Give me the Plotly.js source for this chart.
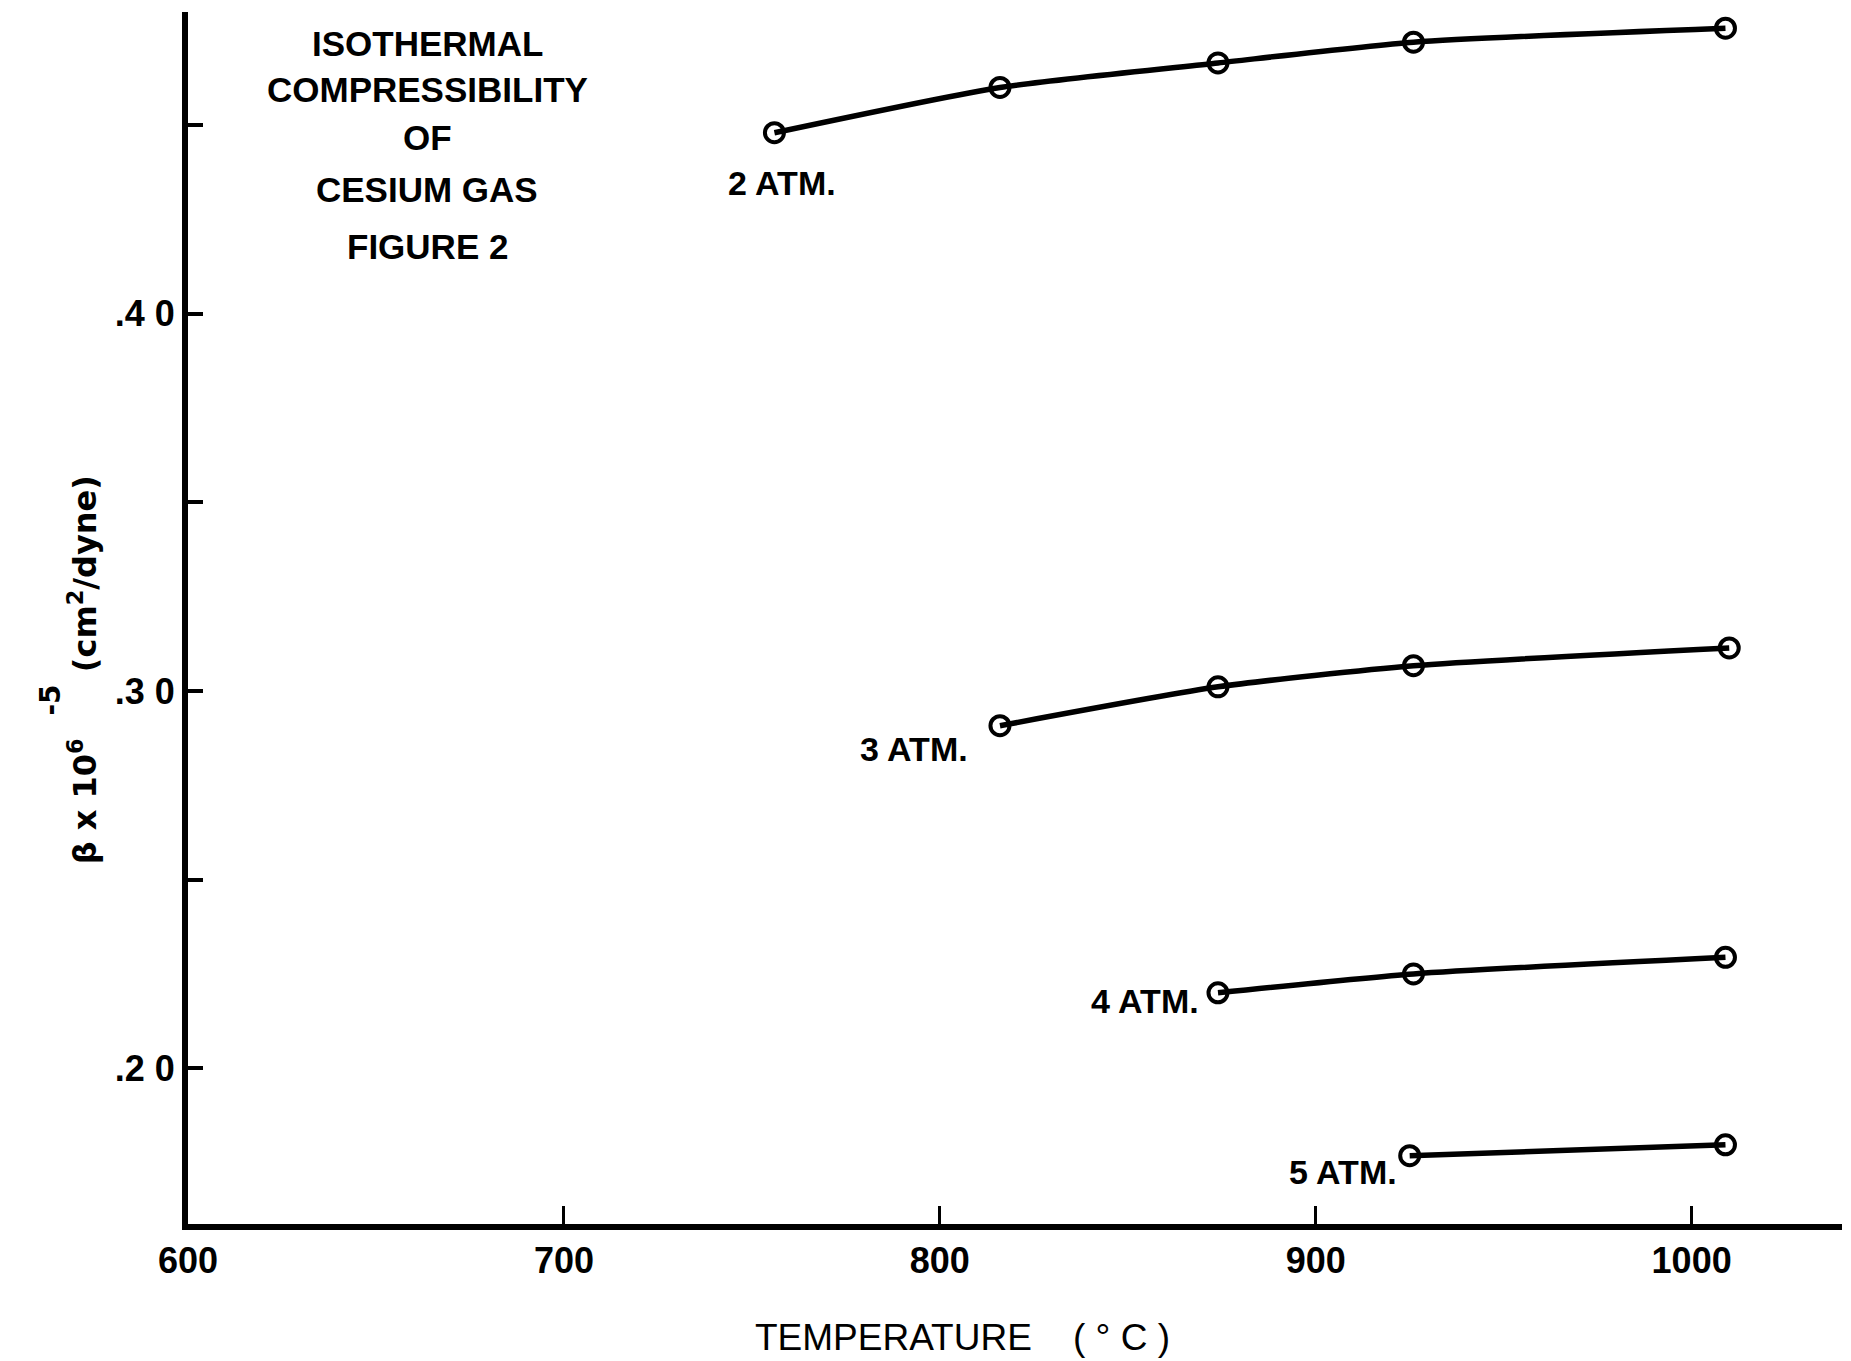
<!DOCTYPE html>
<html>
<head>
<meta charset="utf-8">
<script src="https://cdn.plot.ly/plotly-3.0.1.min.js"></script>
<style>html,body{margin:0;padding:0;background:#fff;}#chart{width:1851px;height:1361px;}</style>
</head>
<body>
<div id="chart"></div>
<script>
// Temperatures (°C) and compressibility beta x 10^6 (cm^2/dyne)
const temp2 = [756, 816, 874, 926, 1009];
const beta2 = [0.448, 0.460, 0.4665, 0.472, 0.4757];
const temp3 = [816, 874, 926, 1010];
const beta3 = [0.2908, 0.3011, 0.3067, 0.3114];
const temp4 = [874, 926, 1009];
const beta4 = [0.2200, 0.2250, 0.2294];
const temp5 = [925, 1009];
const beta5 = [0.1768, 0.1797];
const seriesNames = ['2 ATM.', '3 ATM.', '4 ATM.', '5 ATM.'];
const xTickVals = [600, 700, 800, 900, 1000];
const xTickText = ['600', '700', '800', '900', '1000'];
const yTickVals = [0.20, 0.30, 0.40];
const yTickText = ['.2 0', '.3 0', '.4 0'];
const titleLines = ['ISOTHERMAL', 'COMPRESSIBILITY', 'OF', 'CESIUM GAS', 'FIGURE 2'];

const FONT = '"Liberation Sans Narrow", "Liberation Sans", Arial, sans-serif';
const DV = '"DejaVu Sans", sans-serif';
const mk = (x, y, name) => ({
  x: x, y: y, name: name, type: 'scatter', mode: 'lines+markers',
  line: {color: '#000', width: 5.5, shape: 'spline', smoothing: 0.6},
  marker: {symbol: 'circle-open', size: 19, color: '#000', line: {width: 4, color: '#000'}},
  showlegend: false, hoverinfo: 'x+y'
});
const data = [mk(temp2, beta2, seriesNames[0]), mk(temp3, beta3, seriesNames[1]),
              mk(temp4, beta4, seriesNames[2]), mk(temp5, beta5, seriesNames[3])];

const labelPos = [[758, 0.4347], [793, 0.2845], [854.6, 0.2178], [907.3, 0.1725]];
const annotations = [];
seriesNames.forEach((n, i) => annotations.push({
  x: labelPos[i][0], y: labelPos[i][1], xref: 'x', yref: 'y', text: n, showarrow: false,
  font: {family: FONT, size: 34, color: '#000', weight: 'bold'}
}));
const titleY = [0.4717, 0.4595, 0.4466, 0.4329, 0.4178];
titleLines.forEach((t, i) => annotations.push({
  x: 663.6, y: titleY[i], xref: 'x', yref: 'y', text: t, showarrow: false,
  font: {family: FONT, size: 35, color: '#000', weight: 'bold'}
}));
annotations.push({
  xref: 'paper', yref: 'y', x: -0.0777, y: 0.2709, textangle: -90, showarrow: false,
  text: 'β&nbsp;x&nbsp;10<sup>6</sup>',
  font: {family: DV, size: 32, color: '#000', weight: 'bold'}
});
annotations.push({
  xref: 'paper', yref: 'y', x: -0.0777, y: 0.3311, textangle: -90, showarrow: false,
  text: '(cm<sup>2</sup>/dyne)',
  font: {family: DV, size: 32, color: '#000', weight: 'bold'}
});
annotations.push({
  xref: 'paper', yref: 'y', x: -0.0941, y: 0.2977, textangle: -90, showarrow: false,
  text: '-5', font: {family: DV, size: 28, color: '#000', weight: 'bold'}
});
annotations.push({
  xref: 'x', yref: 'paper', x: 806, y: -0.0936, yanchor: 'middle', showarrow: false,
  text: 'TEMPERATURE&nbsp;&nbsp;&nbsp;&nbsp;(&nbsp;°&nbsp;C&nbsp;)',
  font: {family: FONT, size: 37, color: '#000'}
});

const layout = {
  width: 1851, height: 1361,
  margin: {l: 188, r: 9, t: 12, b: 137},
  paper_bgcolor: '#fff', plot_bgcolor: '#fff',
  showlegend: false,
  xaxis: {
    range: [600, 1040], showgrid: false, zeroline: false,
    showline: true, linecolor: '#000', linewidth: 6,
    ticks: 'inside', ticklen: 18, tickwidth: 3, tickcolor: '#000',
    tickvals: xTickVals, ticktext: xTickText,
    tickfont: {family: '"Liberation Sans", Arial, sans-serif', size: 36, color: '#000', weight: 'bold'}
  },
  yaxis: {
    range: [0.1587, 0.48], showgrid: false, zeroline: false,
    showline: true, linecolor: '#000', linewidth: 6,
    ticks: 'inside', ticklen: 15, tickwidth: 4, tickcolor: '#000',
    tickvals: yTickVals, ticktext: yTickText,
    minor: {tick0: 0.2, dtick: 0.05, ticks: 'inside', ticklen: 15, tickwidth: 4, tickcolor: '#000', showgrid: false},
    tickfont: {family: '"Liberation Sans", Arial, sans-serif', size: 36, color: '#000', weight: 'bold'}
  },
  annotations: annotations
};
Plotly.newPlot('chart', data, layout, {staticPlot: true});
</script>
</body>
</html>
